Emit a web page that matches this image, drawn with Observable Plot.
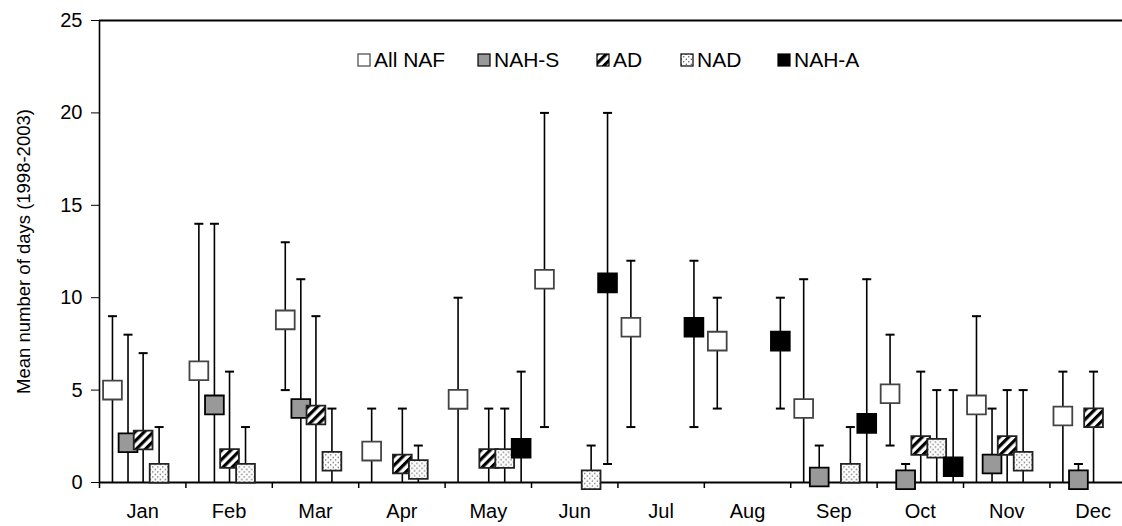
<!DOCTYPE html>
<html><head><meta charset="utf-8">
<script src="https://cdn.jsdelivr.net/npm/d3@7"></script>
<script src="https://cdn.jsdelivr.net/npm/@observablehq/plot@0.6"></script>
<style>
html,body{margin:0;padding:0;background:#fff;}
#wrap{position:relative;width:1122px;height:526px;font-family:"Liberation Sans",Arial,sans-serif;}
#legend{position:absolute;top:48px;left:0;width:1122px;height:26px;font-size:21px;color:#000;white-space:nowrap;}
.item{position:absolute;top:0;display:flex;align-items:center;}
.item svg{margin-right:3px;}
</style></head><body>
<svg width="0" height="0" style="position:absolute">
<defs>
<pattern id="stripes" patternUnits="userSpaceOnUse" width="6.5" height="6.5" patternTransform="rotate(45)">
<rect width="6.5" height="6.5" fill="#fff"/><rect width="3.2" height="6.5" fill="#000"/>
</pattern>
<pattern id="dots" patternUnits="userSpaceOnUse" width="5" height="5">
<rect width="5" height="5" fill="#fff"/><circle cx="1.25" cy="1.25" r="0.7" fill="#444"/><circle cx="3.75" cy="3.75" r="0.7" fill="#444"/>
</pattern>
</defs></svg>
<div id="wrap"><div id="chart"></div><div id="legend"></div></div>
<script>
// ---- data ----
const months = ["Jan","Feb","Mar","Apr","May","Jun","Jul","Aug","Sep","Oct","Nov","Dec"];
const seriesNames = ["All NAF","NAH-S","AD","NAD","NAH-A"];

const allNafMean = [5.0, 6.05, 8.8, 1.7, 4.5, 11.0, 8.4, 7.65, 4.0, 4.8, 4.2, 3.6];
const allNafHi   = [9, 14, 13, 4, 10, 20, 12, 10, 11, 8, 9, 6];
const allNafLo   = [0, 0, 5, 0, 0, 3, 3, 4, 0, 2, 0, 0];

const nahSMean = [2.15, 4.2, 4.0, null, null, null, null, null, 0.3, 0.15, 1.0, 0.15];
const nahSHi   = [8, 14, 11, null, null, null, null, null, 2, 1, 4, 1];
const nahSLo   = [0, 0, 0, null, null, null, null, null, 0, 0, 0, 0];

const adMean = [2.3, 1.3, 3.65, 1.0, 1.3, null, null, null, null, 2.0, 2.0, 3.5];
const adHi   = [7, 6, 9, 4, 4, null, null, null, null, 6, 5, 6];
const adLo   = [0, 0, 0, 0, 0, null, null, null, null, 0, 0, 0];

const nadMean = [0.5, 0.5, 1.15, 0.7, 1.3, 0.15, null, null, 0.5, 1.85, 1.15, null];
const nadHi   = [3, 3, 4, 2, 4, 2, null, null, 3, 5, 5, null];
const nadLo   = [0, 0, 0, 0, 0, 0, null, null, 0, 0, 0, null];

const nahAMean = [null, null, null, null, 1.85, 10.8, 8.4, 7.65, 3.2, 0.85, null, null];
const nahAHi   = [null, null, null, null, 6, 20, 12, 10, 11, 5, null, null];
const nahALo   = [null, null, null, null, 0, 1, 3, 4, 0, 0, null, null];

const yTicks = [0, 5, 10, 15, 20, 25];
const yTitle = "Mean number of days (1998-2003)";

// ---- styles / layout ----
const styles = [
  {fill: "#fff", stroke: "#444"},
  {fill: "#999", stroke: "#000"},
  {fill: "url(#stripes)", stroke: "#222"},
  {fill: "url(#dots)", stroke: "#222"},
  {fill: "#000", stroke: "#000"}
];
const slotOffset = [0.15, 0.33, 0.505, 0.69, 0.88];
const legendLeft = [357, 477, 596, 680, 777];

const seriesData = [
  [allNafMean, allNafHi, allNafLo],
  [nahSMean, nahSHi, nahSLo],
  [adMean, adHi, adLo],
  [nadMean, nadHi, nadLo],
  [nahAMean, nahAHi, nahALo]
];
const rows = [];
seriesData.forEach(([m, h, l], s) => m.forEach((v, i) => {
  if (v != null) rows.push({s, name: seriesNames[s], month: months[i], x: i + slotOffset[s], mean: v, hi: h[i], lo: l[i]});
}));

const cap = {draw(ctx) { ctx.moveTo(-4.5, 0); ctx.lineTo(4.5, 0); }};

const marks = [
  Plot.ruleY([0], {stroke: "#000", strokeWidth: 2}),
  Plot.ruleY([25], {stroke: "#000", strokeWidth: 2}),
  Plot.ruleX([0], {stroke: "#000", strokeWidth: 1.6}),
  Plot.axisY({ticks: yTicks, tickSize: 8, tickPadding: 9, label: null, fontSize: 20}),
  Plot.text([yTitle], {frameAnchor: "left", textAnchor: "middle", lineAnchor: "middle", rotate: -90, dx: -75, fontSize: 18.5, fill: "#000"}),
  Plot.axisX({ticks: d3.range(0, 12), tickSize: 6, tickFormat: () => "", label: null, strokeWidth: 1.5}),
  Plot.axisX({ticks: d3.range(12).map(i => i + 0.5), tickSize: 0, tickPadding: 21, tickFormat: d => months[Math.round(d - 0.5)], label: null, fontSize: 20}),
  Plot.ruleX(rows, {x: "x", y1: "lo", y2: "hi", stroke: "#000", strokeWidth: 1.6}),
  Plot.dot(rows, {x: "x", y: "hi", symbol: cap, r: 5, stroke: "#000", strokeWidth: 2}),
  Plot.dot(rows.filter(d => d.lo > 0), {x: "x", y: "lo", symbol: cap, r: 5, stroke: "#000", strokeWidth: 2})
];
styles.forEach((st, s) => {
  marks.push(Plot.dot(rows.filter(d => d.s === s), {x: "x", y: "mean", symbol: "square", r: 10.6, fill: st.fill, stroke: st.stroke, strokeWidth: 1.8}));
});

const chart = Plot.plot({
  width: 1122, height: 526,
  marginLeft: 99, marginRight: 0, marginTop: 20, marginBottom: 44,
  x: {domain: [0, 11.84], axis: null},
  y: {domain: [0, 25], axis: null},
  style: {fontFamily: '"Liberation Sans", Arial, sans-serif', fontSize: "20px", color: "#000", background: "#fff", overflow: "visible"},
  marks
});
document.getElementById("chart").appendChild(chart);

// legend
const legend = document.getElementById("legend");
seriesNames.forEach((name, s) => {
  const item = document.createElement("div");
  item.className = "item";
  item.style.left = legendLeft[s] + "px";
  item.innerHTML = `<svg width="14" height="14"><rect x="1" y="1" width="12" height="12" fill="${styles[s].fill}" stroke="${s === 0 ? '#444' : '#000'}" stroke-width="1.2"/></svg><span>${name}</span>`;
  legend.appendChild(item);
});
</script>
</body></html>
